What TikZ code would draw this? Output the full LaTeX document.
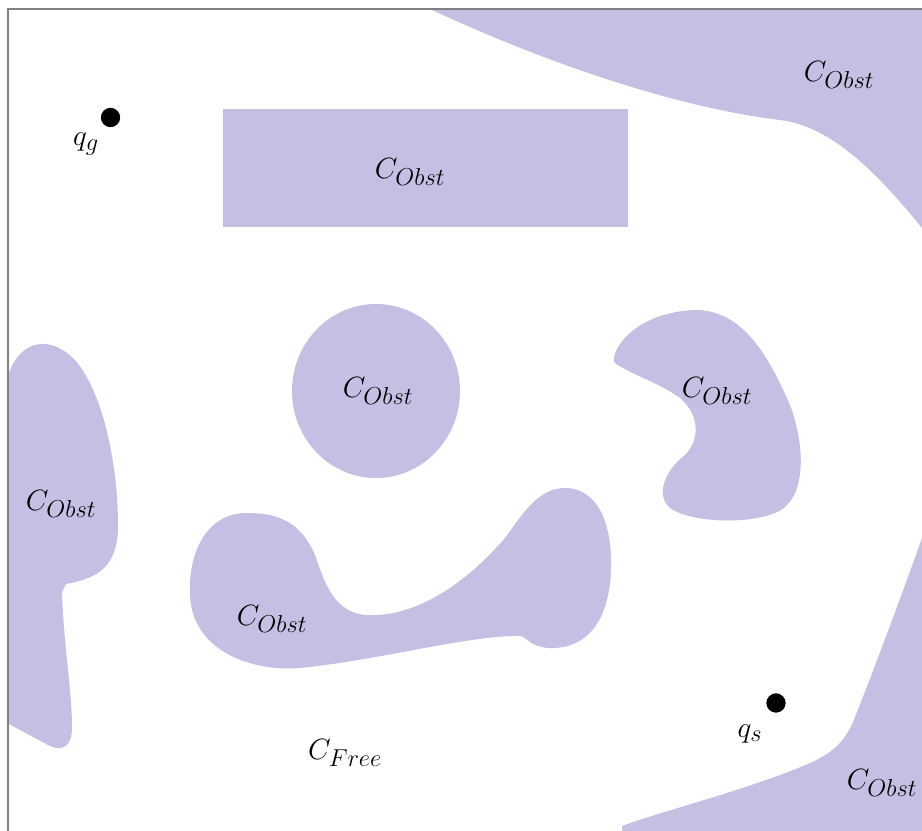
\documentclass[tikz,border=0pt]{standalone}
\usepackage{graphicx}
\definecolor{obstcol}{RGB}{197,191,228}
\definecolor{framecol}{RGB}{128,128,128}
\newcommand{\lbltext}[1]{\scalebox{0.884}{\Huge$#1$}}
\tikzset{
  obst/.style={fill=obstcol, draw=none},
  lbl/.style={inner sep=0pt},
  dotmark/.style={circle, fill=black, inner sep=0pt, minimum width=13.5pt, minimum height=14.5pt}
}
\begin{document}
\begin{tikzpicture}[x=0.75pt,y=-0.75pt]
\useasboundingbox[fill=white] (0,0) rectangle (922,831);
% top-right obstacle
\fill[obst] (430,9) .. controls (550,65) and (680,108) .. (780,120)
  .. controls (830,126) and (875,170) .. (922,228) -- (922,9) -- cycle;
% rectangle
\fill[obst] (223,109) rectangle (628,227);
% circle
\fill[obst] (376,391) ellipse [x radius=84, y radius=87];
% kidney
\fill[obst] (614,362) .. controls (612,345) and (640,312) .. (695,310)
  .. controls (745,310) and (770,360) .. (790,405)
  .. controls (805,445) and (808,500) .. (775,513)
  .. controls (745,525) and (690,522) .. (670,508)
  .. controls (655,495) and (665,470) .. (685,455)
  .. controls (700,440) and (700,415) .. (680,398)
  .. controls (660,383) and (625,372) .. (614,362) -- cycle;
% S-shaped obstacle
\fill[obst] (247,513) .. controls (205,513) and (188,555) .. (190,595)
  .. controls (192,650) and (250,672) .. (300,668)
  .. controls (380,660) and (470,635) .. (520,636)
  .. controls (528,637) and (528,646) .. (548,648)
  .. controls (600,650) and (612,600) .. (611,560)
  .. controls (610,510) and (590,488) .. (565,488)
  .. controls (540,488) and (525,510) .. (505,538)
  .. controls (460,590) and (410,618) .. (365,615)
  .. controls (335,612) and (325,585) .. (315,555)
  .. controls (300,520) and (275,513) .. (247,513) -- cycle;
% left obstacle
\fill[obst] (7,380) .. controls (15,345) and (45,330) .. (75,360)
  .. controls (105,395) and (118,470) .. (118,525)
  .. controls (118,565) and (100,578) .. (66,584)
  -- (62,592) .. controls (64,650) and (72,690) .. (72,728)
  .. controls (72,748) and (60,752) .. (48,745) -- (7,723) -- cycle;
% bottom-right obstacle
\fill[obst] (922,538) .. controls (900,600) and (870,680) .. (853,722)
  .. controls (840,752) and (820,760) .. (780,775)
  .. controls (720,797) and (660,812) .. (622,826)
  -- (622,831) -- (922,831) -- cycle;
% frame
\draw[framecol, line width=1.5pt] (7.5,831) -- (7.5,9) -- (922,9);
% points
\node[dotmark] (qgdot) at (110.5,117.5) {};
\node[dotmark] (qsdot) at (776,703) {};
% labels
\node[lbl] (qg) at (86,144) {\lbltext{q_g}};
\node[lbl] (qs) at (750,734) {\lbltext{q_s}};
\node[lbl] (o1) at (839,75) {\lbltext{C_{Obst}}};
\node[lbl] (o2) at (410,172) {\lbltext{C_{Obst}}};
\node[lbl] (o3) at (378,391) {\lbltext{C_{Obst}}};
\node[lbl] (o4) at (717,391) {\lbltext{C_{Obst}}};
\node[lbl] (o5) at (61,504) {\lbltext{C_{Obst}}};
\node[lbl] (o6) at (272,619) {\lbltext{C_{Obst}}};
\node[lbl] (o7) at (882,783) {\lbltext{C_{Obst}}};
\node[lbl] (free) at (345,753) {\lbltext{C_{Free}}};
\end{tikzpicture}
\end{document}
